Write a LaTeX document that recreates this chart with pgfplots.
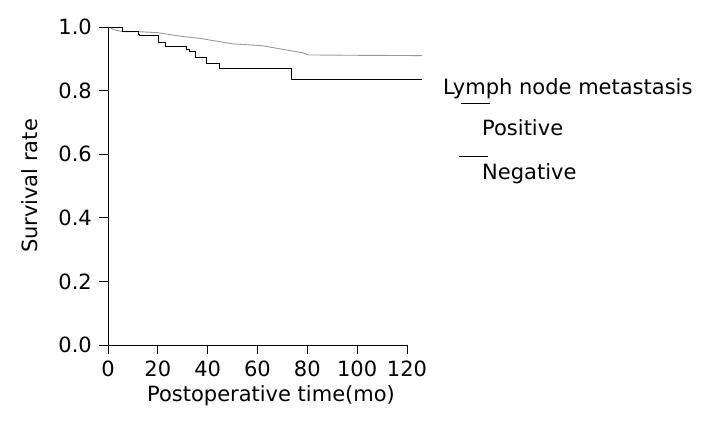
\documentclass[border=0pt]{standalone}
\usepackage{pgfplots}
\pgfplotsset{compat=1.18}
\usepackage{fontspec}
\setmainfont{DejaVu Sans}

\begin{document}
\fontsize{21}{25}\selectfont
\begin{tikzpicture}
\path (-108pt,-82pt) rectangle (608pt,345pt);
\begin{axis}[
  width=299pt, height=318pt, scale only axis,
  xmin=0, xmax=120, ymin=0, ymax=1,
  axis x line=bottom, axis y line=left,
  axis line style={-, line width=0.9pt},
  tick align=outside,
  major tick length=9pt,
  major tick style={black, line width=0.9pt},
  xtick={0,20,40,60,80,100,120},
  ytick={0,0.2,0.4,0.6,0.8,1},
  yticklabel style={/pgf/number format/.cd, fixed, fixed zerofill, precision=1},
  /pgf/number format/assume math mode=true,
  tick label style={font=\fontsize{21}{25}\selectfont},
  clip=false,
]
% negative lymph nodes (month, survival rate)
\addplot[gray!80, line width=0.9pt] table {
0 1.000
3 0.990
6 0.985
13 0.985
20 0.982
30 0.970
37 0.964
50 0.947
62 0.941
70 0.930
78 0.919
80.5 0.912
100 0.911
126 0.910
};
% positive lymph nodes
\addplot[black, line width=0.9pt, const plot] table {
0 1.000
5.9 0.985
12.2 0.976
12.8 0.972
20.2 0.952
22.9 0.938
31.3 0.928
32.5 0.922
34.9 0.905
39.6 0.884
44.6 0.870
73.8 0.836
126 0.836
};
\end{axis}
% titles and key
\node[rotate=90, anchor=center] at (-78pt,159pt) {Survival rate};
\node[anchor=base] at (163pt,-57pt) {Postoperative time(mo)};
\node[anchor=base west, inner sep=0pt] at (335pt,250pt) {Lymph node metastasis};
\draw[black, line width=0.9pt] (353pt,241.5pt) -- (382pt,241.5pt);
\node[anchor=base west, inner sep=0pt] at (374pt,209pt) {Positive};
\draw[black, line width=0.9pt] (351pt,189pt) -- (380pt,189pt);
\node[anchor=base west, inner sep=0pt] at (374pt,165pt) {Negative};
\end{tikzpicture}
\end{document}
